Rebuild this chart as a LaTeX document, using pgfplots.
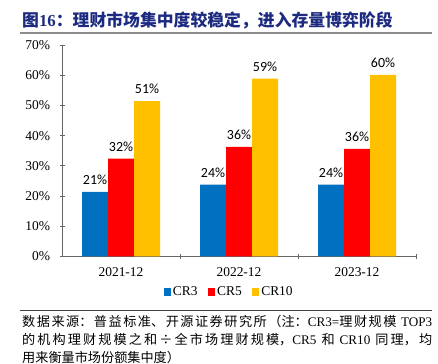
\documentclass[border=0pt]{standalone}
\usepackage{fontspec}
\usepackage{pgfplots}
\pgfplotsset{compat=1.18}
\setmainfont{Liberation Serif}
\newfontfamily\cjk{Noto Sans CJK SC}
\newfontfamily\calfont{Carlito}
\definecolor{cblue}{HTML}{0070C0}
\definecolor{cred}{HTML}{FF0000}
\definecolor{cyel}{HTML}{FFC000}
\definecolor{ttl}{RGB}{28,42,128}
\XeTeXlinebreaklocale "zh"
\XeTeXlinebreakskip=0pt plus 2pt
\begin{document}
\begin{tikzpicture}
\useasboundingbox (0,0) rectangle (438bp,364bp);
\node[anchor=west, inner sep=0, text=ttl] at (22bp,344bp) {\fontsize{16.9}{18}\selectfont{\cjk\bfseries 图}{\bfseries 16}{\cjk\bfseries ：理财市场集中度较稳定，进入存量博弈阶段}};
\draw[color=black!45, line width=1.6bp] (20bp,331bp) -- (432bp,331bp);
\draw[color=black!75, line width=0.6bp] (20bp,53.5bp) -- (432bp,53.5bp);
\node[anchor=north west, inner sep=0, text width=410bp, align=justify, font=\fontsize{13.2}{17.8}\selectfont] at (22bp,48.5bp) {\noindent
{\cjk 数据来源：普益标准、开源证券研究所（注：}CR3={\cjk 理财规模} TOP3\linebreak
{\cjk 的机构理财规模之和÷全市场理财规模，}CR5 {\cjk 和} CR10 {\cjk 同理，均}\linebreak
{\cjk 用来衡量市场份额集中度）}};
\begin{axis}[
  at={(62bp,107.5bp)}, anchor=south west,
  scale only axis, width=354bp, height=211.5bp,
  ybar=0pt, bar width=26bp,
  xmin=-0.5, xmax=2.5, ymin=0, ymax=70,
  axis lines=left, axis line style={-, draw=black!60, line width=0.8bp},
  xtick={0.5,1.5,2.5}, xticklabels={},
  extra x ticks={0,1,2},
  extra x tick labels={2021-12,2022-12,2023-12},
  extra x tick style={major tick length=0pt},
  ytick={0,10,...,70},
  yticklabel={\pgfmathprintnumber{\tick}\%},
  /pgf/number format/assume math mode=true,
  tick style={draw=black!60, line width=0.8bp},
  major tick length=5bp,
  tick label style={font=\fontsize{13.5}{14}\selectfont},
  xticklabel style={yshift=-8bp},
  yticklabel style={xshift=-6bp},
  nodes near coords={\pgfmathprintnumber[fixed,precision=0]{\pgfplotspointmeta}\%},
  every node near coord/.append style={font=\calfont\fontsize{14}{15}\selectfont, text=black, anchor=south, inner sep=0pt, yshift=7bp},
  legend columns=3,
  legend style={at={(axis description cs:0.472,-0.168)}, anchor=center, draw=none, fill=none, font=\fontsize{13.5}{14}\selectfont, inner sep=0pt, /tikz/every even column/.append style={column sep=8bp}},
  legend image code/.code={\fill[#1, draw=none] (0bp,-3.5bp) rectangle (7.5bp,4bp);},
  clip=false,
]
\addplot[fill=cblue, draw=none] coordinates {(0,21.4) (1,23.8) (2,23.8)};
\addplot[fill=cred, draw=none] coordinates {(0,32.4) (1,36.3) (2,35.6)};
\addplot[fill=cyel, draw=none] coordinates {(0,51.4) (1,58.9) (2,60.1)};
\legend{CR3,CR5,CR10}
\end{axis}
\end{tikzpicture}
\end{document}
